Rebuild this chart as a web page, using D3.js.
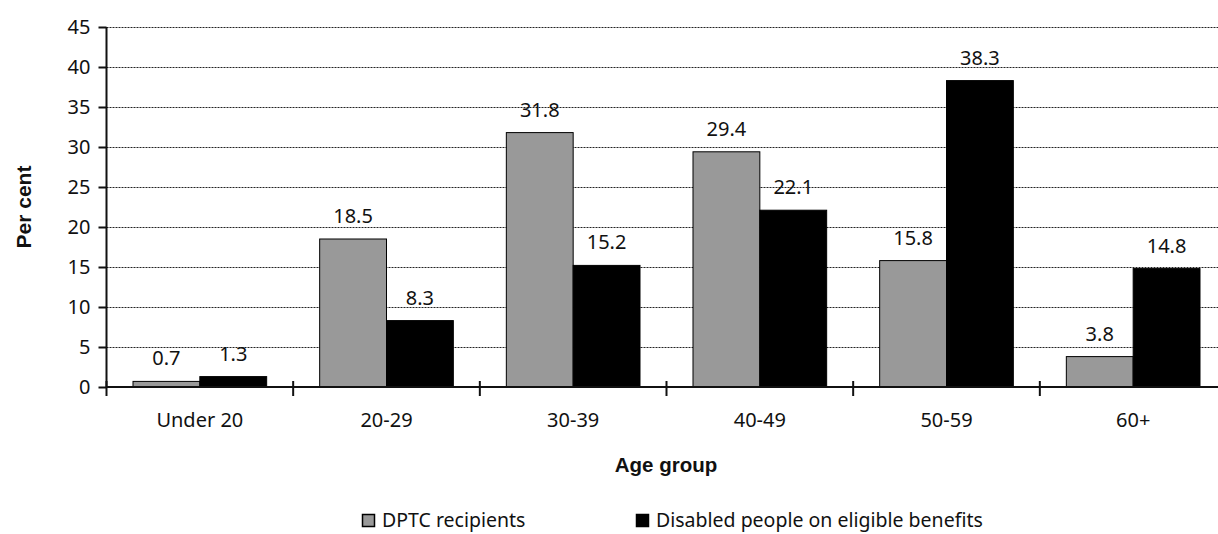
<!DOCTYPE html>
<html>
<head>
<meta charset="utf-8">
<script src="https://cdn.jsdelivr.net/npm/d3@7"></script>
<style>
  html, body { margin: 0; padding: 0; background: #fff; }
  svg { display: block; }
  text { fill: #111; }
</style>
</head>
<body>
<svg id="chart" width="1218" height="534"></svg>
<script>
// Age distribution data (per cent)
const categories = ["Under 20", "20-29", "30-39", "40-49", "50-59", "60+"];
const seriesNames = ["DPTC recipients", "Disabled people on eligible benefits"];
const dptc = [0.7, 18.5, 31.8, 29.4, 15.8, 3.8];
const disabled = [1.3, 8.3, 15.2, 22.1, 38.3, 14.8];
const yTicks = [0, 5, 10, 15, 20, 25, 30, 35, 40, 45];
const seriesColors = ["#999999", "#000000"];

const svg = d3.select("#chart");
const font = "Noto Sans, DejaVu Sans, sans-serif";
const titleFont = "Liberation Sans, Arial, sans-serif";

const plotLeft = 106.5, plotRight = 1226.5, plotTop = 27, plotBottom = 387;

const x0 = d3.scaleBand().domain(categories).range([plotLeft, plotRight]).padding(0);
const groupGap = 26.5;
const x1 = d3.scaleBand().domain(seriesNames)
  .range([groupGap, x0.bandwidth() - groupGap]).padding(0);
const y = d3.scaleLinear().domain([0, 45]).range([plotBottom, plotTop]);

// dashed horizontal gridlines
svg.append("g")
  .selectAll("line")
  .data(yTicks.filter(d => d > 0))
  .join("line")
  .attr("x1", plotLeft).attr("x2", plotRight)
  .attr("y1", d => Math.round(y(d)) + 0.5).attr("y2", d => Math.round(y(d)) + 0.5)
  .attr("stroke", "#222").attr("stroke-width", 1)
  .attr("stroke-dasharray", "2,1");

// bars
const rows = categories.map((c, i) => ({ cat: c, values: [dptc[i], disabled[i]] }));
const groups = svg.append("g").selectAll("g")
  .data(rows).join("g")
  .attr("transform", d => `translate(${x0(d.cat)},0)`);

groups.selectAll("rect")
  .data(d => d.values.map((v, j) => ({ name: seriesNames[j], v, j })))
  .join("rect")
  .attr("x", d => x1(d.name))
  .attr("y", d => y(d.v))
  .attr("width", x1.bandwidth())
  .attr("height", d => y(0) - y(d.v))
  .attr("fill", d => seriesColors[d.j])
  .attr("stroke", "#000").attr("stroke-width", 1);

// value labels
groups.selectAll("text.val")
  .data(d => d.values.map((v, j) => ({ name: seriesNames[j], v, j })))
  .join("text")
  .attr("class", "val")
  .attr("x", d => x1(d.name) + x1.bandwidth() / 2)
  .attr("y", d => y(d.v) - 16)
  .attr("text-anchor", "middle")
  .attr("font-family", font).attr("font-size", 20)
  .text(d => d.v.toFixed(1));

// y axis
const yAxis = svg.append("g")
  .attr("transform", `translate(${plotLeft},0)`)
  .call(d3.axisLeft(y).tickValues(yTicks).tickSize(8).tickPadding(8).tickFormat(d3.format("d")));
yAxis.select(".domain").remove();
yAxis.selectAll(".tick line").attr("stroke", "#111").attr("stroke-width", 2);
yAxis.selectAll(".tick text").attr("font-family", font).attr("font-size", 20).attr("fill", "#111");
svg.append("line")
  .attr("x1", plotLeft).attr("x2", plotLeft).attr("y1", plotTop).attr("y2", plotBottom)
  .attr("stroke", "#111").attr("stroke-width", 2);

// x axis line with crossing ticks at category boundaries
svg.append("line")
  .attr("x1", plotLeft).attr("x2", plotRight).attr("y1", plotBottom).attr("y2", plotBottom)
  .attr("stroke", "#111").attr("stroke-width", 2);
const bounds = categories.map(c => x0(c)).concat([plotRight]);
svg.append("g").selectAll("line")
  .data(bounds).join("line")
  .attr("x1", d => d).attr("x2", d => d)
  .attr("y1", plotBottom - 6).attr("y2", plotBottom + 9)
  .attr("stroke", "#111").attr("stroke-width", 2);

// category labels
svg.append("g").selectAll("text")
  .data(categories).join("text")
  .attr("x", d => x0(d) + x0.bandwidth() / 2)
  .attr("y", 427)
  .attr("text-anchor", "middle")
  .attr("font-family", font).attr("font-size", 20)
  .text(d => d);

// axis titles
svg.append("text")
  .attr("x", 666).attr("y", 472)
  .attr("text-anchor", "middle")
  .attr("font-family", titleFont)
  .attr("font-weight", "bold").attr("font-size", 20.5)
  .text("Age group");
svg.append("text")
  .attr("transform", `translate(31,${(plotTop + plotBottom) / 2}) rotate(-90)`)
  .attr("text-anchor", "middle")
  .attr("font-family", titleFont)
  .attr("font-weight", "bold").attr("font-size", 21)
  .text("Per cent");

// legend
const legendX = [362, 636];
const legend = svg.append("g").selectAll("g")
  .data(seriesNames).join("g")
  .attr("transform", (d, i) => `translate(${legendX[i]},514)`);
legend.append("rect")
  .attr("x", 0.5).attr("y", 0.5).attr("width", 12).attr("height", 12)
  .attr("fill", (d, i) => seriesColors[i])
  .attr("stroke", "#000").attr("stroke-width", 1.5);
legend.append("text")
  .attr("x", 20).attr("y", 13)
  .attr("font-family", font).attr("font-size", 19.5)
  .text(d => d);
</script>
</body>
</html>
